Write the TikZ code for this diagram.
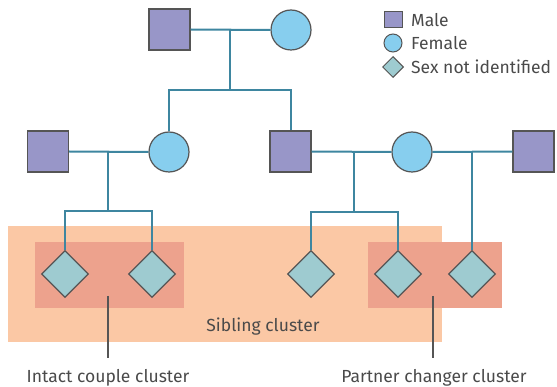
\documentclass[tikz,border=0pt]{standalone}
\usepackage{fontspec}
\setmainfont{Fira Sans}
\usetikzlibrary{shapes.geometric}
\definecolor{malec}{HTML}{9896C8}
\definecolor{femc}{HTML}{87CEEE}
\definecolor{unkc}{HTML}{9ECBD0}
\definecolor{edgec}{HTML}{555555}
\definecolor{linkc}{HTML}{3E86A0}
\definecolor{sibc}{HTML}{FBC8A5}
\definecolor{cluc}{HTML}{EDA28D}
\definecolor{txtc}{HTML}{4A4A4A}
\tikzset{
  malebox/.style={rectangle,draw=edgec,fill=malec,line width=1.2pt,minimum size=41pt,inner sep=0pt},
  femnode/.style={circle,draw=edgec,fill=femc,line width=1.2pt,minimum size=40pt,inner sep=0pt},
  unknode/.style={diamond,draw=edgec,fill=unkc,line width=1.2pt,minimum size=47pt,inner sep=0pt,shape aspect=1},
  link/.style={draw=linkc,line width=2pt},
  pointer/.style={draw=edgec,line width=1.2pt},
  lbl/.style={text=txtc,font=\fontsize{17.5}{20}\selectfont,inner sep=0pt},
}
\begin{document}
\begin{tikzpicture}[x=1pt,y=-1pt]
\useasboundingbox (0,0) rectangle (557,387);
% clusters
\fill[sibc] (8,226) rectangle (442,342);
\fill[cluc] (35,242) rectangle (184,308);
\fill[cluc] (368,242) rectangle (502,308);
% nodes
\node[malebox] (gm) at (169.5,29.5) {};
\node[femnode] (gf) at (291,30) {};
\node[malebox] (p1) at (48,151.5) {};
\node[femnode] (p2) at (169,152) {};
\node[malebox] (p3) at (290.5,151.5) {};
\node[femnode] (p4) at (412,152) {};
\node[malebox] (p5) at (533.5,151.5) {};
\node[unknode] (c1) at (65,274) {};
\node[unknode] (c2) at (152,274) {};
\node[unknode] (c3) at (311,274) {};
\node[unknode] (c4) at (398,274) {};
\node[unknode] (c5) at (472,274) {};
% connectors
\coordinate (m1) at (230,30);
\coordinate (s1) at (230,90);
\draw[link] (gm.east) -- (gf.west);
\draw[link] (m1) -- (s1);
\draw[link] (p2.north) |- (s1) -| (p3.north);
\coordinate (m2) at (108,152);
\coordinate (s2) at (108,211);
\draw[link] (p1.east) -- (p2.west);
\draw[link] (m2) -- (s2);
\draw[link] (c1.north) |- (s2) -| (c2.north);
\coordinate (m3) at (354,152);
\coordinate (s3) at (354,212);
\draw[link] (p3.east) -- (p4.west);
\draw[link] (m3) -- (s3);
\draw[link] (c3.north) |- (s3) -| (c4.north);
\coordinate (m4) at (472,152);
\draw[link] (p4.east) -- (p5.west);
\draw[link] (m4) -- (c5.north);
% labels
\node[lbl,anchor=base] (sib) at (263,331) {Sibling cluster};
\node[lbl,anchor=base] (ic) at (108,382) {Intact couple cluster};
\node[lbl,anchor=base] (pc) at (434,382) {Partner changer cluster};
\coordinate (ict) at (108,296);
\coordinate (pct) at (433,296);
\coordinate (icb) at (108,358);
\coordinate (pcb) at (433,358);
\draw[pointer] (ict) -- (icb);
\draw[pointer] (pct) -- (pcb);
% legend
\node[rectangle,draw=edgec,fill=malec,line width=1pt,minimum width=18pt,minimum height=16pt,inner sep=0pt] (lm) at (393,20) {};
\node[circle,draw=edgec,fill=femc,line width=1pt,minimum size=18pt,inner sep=0pt] (lf) at (393,43) {};
\node[diamond,draw=edgec,fill=unkc,line width=1pt,minimum size=21pt,inner sep=0pt,shape aspect=1] (lu) at (393,67) {};
\node[lbl,anchor=west] (tm) at (411,20) {Male};
\node[lbl,anchor=west] (tf) at (411,43) {Female};
\node[lbl,anchor=west] (tu) at (411,67) {Sex not identified};
\end{tikzpicture}
\end{document}
